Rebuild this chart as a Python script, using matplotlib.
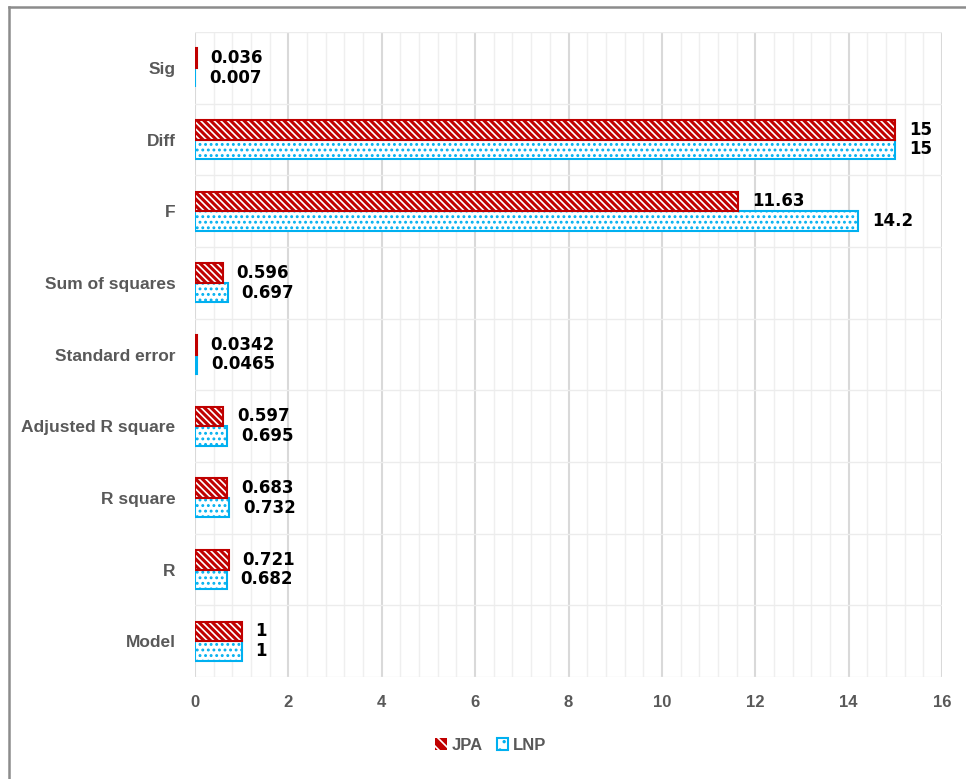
import matplotlib.pyplot as plt
import numpy as np
from matplotlib.lines import Line2D
from matplotlib.patches import Patch
from matplotlib.ticker import MultipleLocator

# Regression summary for the two models, listed bottom to top
categories = ['Model', 'R', 'R square', 'Adjusted R square', 'Standard error',
              'Sum of squares', 'F', 'Diff', 'Sig']
jpa = [1, 0.721, 0.683, 0.597, 0.0342, 0.596, 11.63, 15, 0.036]
lnp = [1, 0.682, 0.732, 0.695, 0.0465, 0.697, 14.2, 15, 0.007]
xticks = [0, 2, 4, 6, 8, 10, 12, 14, 16]

RED = '#C00000'
BLUE = '#00B0F0'
GREY = '#595959'

plt.rcParams['font.family'] = ['Liberation Sans', 'DejaVu Sans']
plt.rcParams['hatch.linewidth'] = 1.2

RED_HATCH = '\\' * 5
BLUE_HATCH = '...'


def hatch_lw(patches, lw):
    for p in patches:
        if hasattr(p, 'set_hatch_linewidth'):
            p.set_hatch_linewidth(lw)


fig = plt.figure(figsize=(9.66, 7.79), dpi=100)
ax = fig.add_axes([195 / 966, 1 - 677 / 779, (942 - 195) / 966, (677 - 32) / 779])

y = np.arange(len(categories))
h = 0.27

# JPA: solid red with thin white diagonal stripes, then a red outline on top
red_bars = ax.barh(y + h / 2, jpa, height=h, color=RED, edgecolor='white',
                   hatch=RED_HATCH, linewidth=0, zorder=3)
hatch_lw(red_bars, 1.2)
ax.barh(y + h / 2, jpa, height=h, color='none', edgecolor=RED, linewidth=1.5, zorder=4)

# LNP: white with small blue dots and a blue outline
blue_bars = ax.barh(y - h / 2, lnp, height=h, color='white', edgecolor=BLUE,
                    hatch=BLUE_HATCH, linewidth=1.5, zorder=3)
hatch_lw(blue_bars, 1.3)

val_font = dict(fontsize=12, fontweight='bold', color='black', family='DejaVu Sans')
for yi, v in zip(y, jpa):
    ax.annotate(f'{v:g}', (v, yi + h / 2), xytext=(10, 0), textcoords='offset points',
                va='center', ha='left', **val_font)
for yi, v in zip(y, lnp):
    ax.annotate(f'{v:g}', (v, yi - h / 2), xytext=(10, 0), textcoords='offset points',
                va='center', ha='left', **val_font)

ax.set_xlim(0, 16)
ax.set_ylim(-0.5, len(categories) - 0.5)
ax.set_xticks(xticks)
ax.xaxis.set_minor_locator(MultipleLocator(0.4))
ax.set_yticks(y)
ax.set_yticklabels(categories)
ax.set_yticks(np.arange(-0.5, len(categories), 0.5), minor=True)

ax.grid(which='major', axis='x', color='#d9d9d9', linewidth=1.5, zorder=0)
ax.grid(which='minor', axis='x', color='#efefef', linewidth=1.0, zorder=0)
ax.grid(which='minor', axis='y', color='#ececec', linewidth=1.0, zorder=0)
ax.set_axisbelow(True)

for s in ax.spines.values():
    s.set_visible(False)

ax.tick_params(axis='x', which='both', length=0, pad=13, labelsize=12,
               labelcolor=GREY)
ax.tick_params(axis='y', which='both', length=0, pad=14, labelsize=12.5,
               labelcolor=GREY)
for lbl in ax.get_xticklabels() + ax.get_yticklabels():
    lbl.set_fontweight('bold')

handles = [
    Patch(facecolor=RED, edgecolor='white', hatch='\\\\\\', linewidth=0),
    Patch(facecolor='white', edgecolor=BLUE, hatch='..', linewidth=1.5),
]
leg = fig.legend(handles, ['JPA', 'LNP'], loc='center', ncol=2,
                 bbox_to_anchor=(491 / 966, 1 - 745 / 779), frameon=False,
                 handlelength=0.7, handleheight=0.7, handletextpad=0.3,
                 columnspacing=0.8, prop={'size': 12, 'weight': 'bold'})
for t in leg.get_texts():
    t.set_color(GREY)

# chart frame (top and left edges)
fig.add_artist(Line2D([9 / 966, 1.0], [1 - 7 / 779] * 2, color='#8c8c8c', linewidth=1.8))
fig.add_artist(Line2D([9 / 966] * 2, [0.0, 1 - 7 / 779], color='#8c8c8c', linewidth=1.8))

plt.savefig('out.png', dpi=100, facecolor='white')
plt.close()
